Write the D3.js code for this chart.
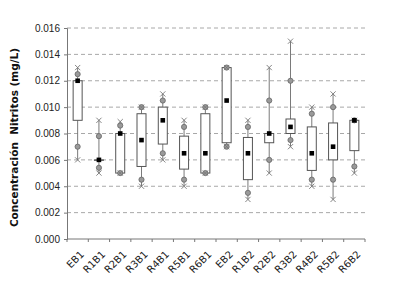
<!DOCTYPE html>
<html>
<head>
<meta charset="utf-8">
<script src="https://cdn.jsdelivr.net/npm/d3@7"></script>
<style>
  body { margin: 0; background: #fff; }
  svg { display: block; font-family: "DejaVu Sans", Verdana, sans-serif; }
</style>
</head>
<body>
<div id="main"></div>
<script>
const ctx = {
    w: 395,
    h: 287,
};

// values (mg/L)
const categories = ["EB1", "R1B1", "R2B1", "R3B1", "R4B1", "R5B1", "R6B1",
                    "EB2", "R1B2", "R2B2", "R3B2", "R4B2", "R5B2", "R6B2"];
const maxVals  = [0.013, 0.009, 0.0089, 0.010, 0.011, 0.009, 0.010, 0.013, 0.009, 0.013, 0.015, 0.010, 0.011, 0.009];
const hiVals   = [0.0125, 0.0078, 0.0086, 0.010, 0.0105, 0.0085, 0.010, 0.013, 0.0085, 0.0105, 0.012, 0.0095, 0.010, 0.009];
const q3Vals   = [0.012, 0.006, 0.008, 0.0095, 0.010, 0.0078, 0.0095, 0.013, 0.0077, 0.008, 0.0091, 0.0085, 0.0088, 0.009];
const medVals  = [0.012, 0.006, 0.008, 0.0075, 0.009, 0.0065, 0.0065, 0.0105, 0.0065, 0.008, 0.0085, 0.0065, 0.007, 0.009];
const q1Vals   = [0.009, 0.006, 0.005, 0.0055, 0.0072, 0.0053, 0.005, 0.0073, 0.0045, 0.0073, 0.008, 0.0052, 0.006, 0.0067];
const loVals   = [0.007, 0.0054, 0.005, 0.0045, 0.0065, 0.0045, 0.005, 0.007, 0.0035, 0.006, 0.0075, 0.0045, 0.0045, 0.0055];
const minVals  = [0.006, 0.005, 0.005, 0.004, 0.006, 0.004, 0.005, 0.007, 0.003, 0.005, 0.007, 0.004, 0.003, 0.005];
const yTicks   = [0, 0.002, 0.004, 0.006, 0.008, 0.010, 0.012, 0.014, 0.016];

const data = categories.map((c, i) => ({
    cat: c, max: maxVals[i], hi: hiVals[i], q3: q3Vals[i],
    med: medVals[i], q1: q1Vals[i], lo: loVals[i], min: minVals[i]
}));

function createViz() {
    const margin = {top: 28, left: 67, right: 30, bottom: 48};
    const svgEl = d3.select("#main").append("svg")
        .attr("width", ctx.w)
        .attr("height", ctx.h);

    const x = d3.scaleBand()
        .domain(categories)
        .range([margin.left, ctx.w - margin.right])
        .padding(0);
    const y = d3.scaleLinear()
        .domain([0, 0.016])
        .range([ctx.h - margin.bottom, margin.top]);

    // dashed grid
    svgEl.append("g").selectAll("line")
        .data(yTicks.filter(d => d > 0))
        .enter().append("line")
        .attr("x1", margin.left).attr("x2", ctx.w - margin.right)
        .attr("y1", d => y(d)).attr("y2", d => y(d))
        .style("stroke", "#a8a8a8")
        .style("stroke-dasharray", "4,3")
        .style("stroke-width", 1);

    // y axis
    const yAxis = svgEl.append("g")
        .attr("transform", `translate(${margin.left},0)`)
        .call(d3.axisLeft(y).tickValues(yTicks).tickFormat(d3.format(".3f")).tickSize(3).tickPadding(4));
    yAxis.select(".domain").style("stroke", "#777");
    yAxis.selectAll(".tick line").style("stroke", "#777");
    yAxis.selectAll("text").style("font-size", "10px").style("fill", "#222");

    // x axis: line + ticks on category boundaries
    const xg = svgEl.append("g");
    xg.append("line")
        .attr("x1", margin.left).attr("x2", ctx.w - margin.right)
        .attr("y1", y(0)).attr("y2", y(0))
        .style("stroke", "#777");
    const bounds = categories.map(c => x(c)).concat([x.range()[1]]);
    xg.selectAll(".xt")
        .data(bounds)
        .enter().append("line")
        .attr("class", "xt")
        .attr("x1", d => d).attr("x2", d => d)
        .attr("y1", y(0)).attr("y2", y(0) + 3)
        .style("stroke", "#777");
    xg.selectAll(".xl")
        .data(categories)
        .enter().append("text")
        .attr("class", "xl")
        .attr("text-anchor", "end")
        .attr("transform", d => `translate(${x(d) + x.bandwidth() / 2 + 7},${y(0) + 16}) rotate(-45)`)
        .style("font-size", "10px")
        .style("fill", "#222")
        .text(d => d);

    // y title
    svgEl.append("text")
        .attr("text-anchor", "middle")
        .attr("transform", `translate(18,${(y(0) + y(0.016)) / 2 + 4}) rotate(-90)`)
        .style("font-size", "10.5px")
        .style("font-weight", "bold")
        .style("fill", "#111")
        .style("white-space", "pre")
        .text("Concentración  Nitritos (mg/L)");

    const cx = d => x(d.cat) + x.bandwidth() / 2;
    const bw = 9;
    const g = svgEl.append("g");

    // whiskers
    g.selectAll(".whisk")
        .data(data)
        .enter().append("line")
        .attr("x1", cx).attr("x2", cx)
        .attr("y1", d => y(d.min)).attr("y2", d => y(d.max))
        .style("stroke", "#7a7a7a");

    // boxes
    g.selectAll(".box")
        .data(data)
        .enter().append("rect")
        .attr("x", d => cx(d) - bw / 2)
        .attr("width", bw)
        .attr("y", d => y(d.q3))
        .attr("height", d => Math.max(0.5, y(d.q1) - y(d.q3)))
        .style("fill", "#fff")
        .style("stroke", "#555");

    // percentile circles
    const pts = [];
    data.forEach(d => { pts.push({d: d, v: d.hi}); pts.push({d: d, v: d.lo}); });
    g.selectAll(".pc")
        .data(pts)
        .enter().append("circle")
        .attr("cx", p => cx(p.d))
        .attr("cy", p => y(p.v))
        .attr("r", 2.6)
        .style("fill", "#9a9a9a")
        .style("stroke", "#666")
        .style("stroke-width", 0.8);

    // extreme crosses
    const ex = [];
    data.forEach(d => { ex.push({d: d, v: d.max}); ex.push({d: d, v: d.min}); });
    const s = 2.6;
    g.selectAll(".ex")
        .data(ex)
        .enter().append("path")
        .attr("d", p => {
            const px = cx(p.d), py = y(p.v);
            return `M${px - s},${py - s}L${px + s},${py + s}M${px - s},${py + s}L${px + s},${py - s}`;
        })
        .style("stroke", "#777")
        .style("stroke-width", 0.9)
        .style("fill", "none");

    // median squares
    g.selectAll(".med")
        .data(data)
        .enter().append("rect")
        .attr("x", d => cx(d) - 2.3)
        .attr("y", d => y(d.med) - 2.3)
        .attr("width", 4.6)
        .attr("height", 4.6)
        .style("fill", "#000");
}

createViz();
</script>
</body>
</html>
